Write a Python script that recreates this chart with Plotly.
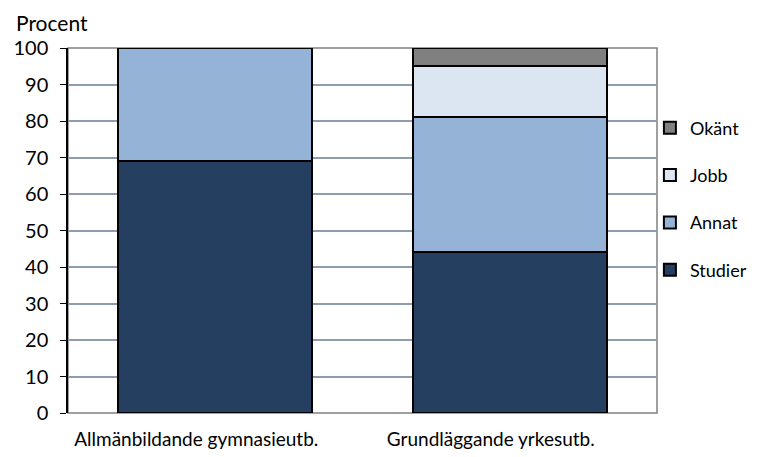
import plotly.graph_objects as go

categories = ["Allmänbildande gymnasieutb.", "Grundläggande yrkesutb."]
series_names = ["Studier", "Annat", "Jobb", "Okänt"]
studier = [69, 44]
annat = [31, 37]
jobb = [0, 14]
okant = [0, 5]
y_ticks = [0, 10, 20, 30, 40, 50, 60, 70, 80, 90, 100]

colors = ["#243F60", "#95B3D7", "#DCE6F2", "#808080"]
values = [studier, annat, jobb, okant]

FONT = "Lato"
W, H = 761, 457
L, R, T, B = 60, 112, 40, 52
PW = W - L - R

fig = go.Figure()
for i, (name, vals, col) in enumerate(zip(series_names, values, colors)):
    fig.add_trace(go.Bar(
        x=categories, y=vals, name=name, legendgroup=name,
        legendrank=len(series_names) - i,
        marker=dict(color=col, line=dict(color="black", width=2)),
        width=0.66,
    ))

fig.update_layout(
    barmode="stack",
    width=W, height=H,
    margin=dict(l=L, r=R, t=T, b=B, autoexpand=False),
    paper_bgcolor="white", plot_bgcolor="white",
    font=dict(family=FONT, size=19, color="black"),
    showlegend=True,
    legend=dict(xref="container", yref="container", x=0.8435, xanchor="left",
                y=0.778, yanchor="top", bgcolor="rgba(0,0,0,0)",
                traceorder="grouped", tracegroupgap=21,
                font=dict(size=18), itemwidth=30),
    xaxis=dict(showline=False, ticks="", tickfont=dict(size=19),
               ticklabelstandoff=13, ticklabelshift=-19,
               showgrid=False, automargin=False),
    yaxis=dict(range=[0, 100], tickvals=y_ticks, showgrid=True,
               gridcolor="#8E9CB2", gridwidth=1.5, zeroline=False,
               showline=True, linecolor="black", linewidth=1.5,
               ticks="outside", ticklen=6, tickcolor="black",
               ticklabelstandoff=8, automargin=False,
               tickfont=dict(size=20)),
    shapes=[dict(type="rect", xref="paper", yref="paper", x0=0, x1=1, y0=0, y1=1,
                 line=dict(color="#808080", width=1.5), layer="below")],
    annotations=[dict(text="Procent", xref="paper", yref="paper",
                      x=(6 - L) / PW, xanchor="left", y=1.0, yshift=26,
                      yanchor="middle", showarrow=False, font=dict(size=21))],
)
fig.write_html("out.html")
